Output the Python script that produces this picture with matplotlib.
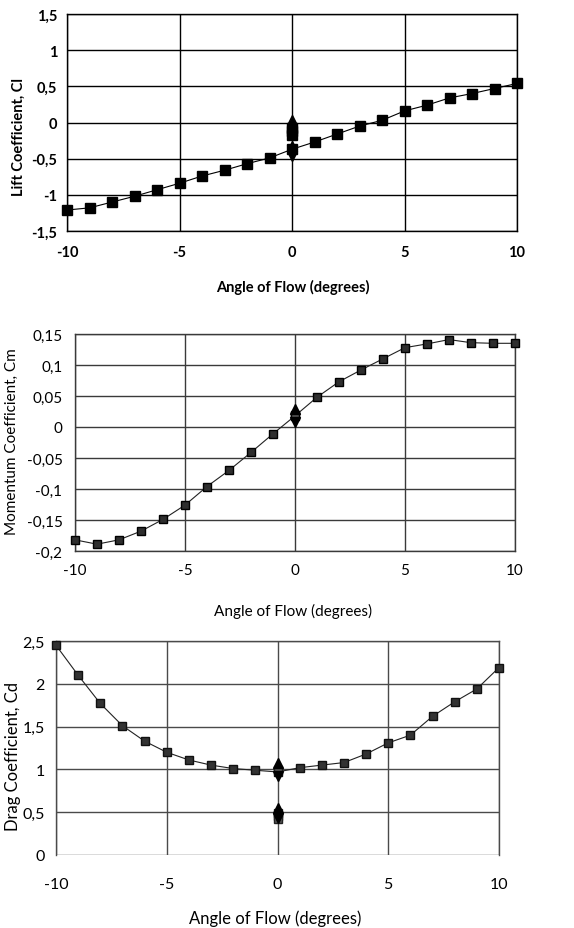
import matplotlib
matplotlib.use("Agg")
import matplotlib.pyplot as plt
from matplotlib.ticker import FuncFormatter

plt.rcParams['font.family'] = ['Lato', 'DejaVu Sans']

# ---------------- data ----------------
angles = list(range(-10, 11))

cl = [-1.21, -1.18, -1.10, -1.02, -0.93, -0.84, -0.74, -0.66, -0.57, -0.49, -0.37,
      -0.27, -0.16, -0.05, 0.03, 0.16, 0.24, 0.34, 0.40, 0.47, 0.54]
cl_zero_repeats = [-0.08, -0.12, -0.17]
cl_err_up = [0.03, -0.33]
cl_err_down = [-0.38, -0.47]

cm = [-0.182, -0.189, -0.182, -0.168, -0.149, -0.126, -0.096, -0.070, -0.041, -0.011, 0.018,
      0.048, 0.073, 0.092, 0.110, 0.128, 0.134, 0.141, 0.136, 0.135, 0.135]
cm_zero_repeats = [0.020]
cm_err_up = [0.029]
cm_err_down = [0.008]

cd = [2.45, 2.10, 1.77, 1.51, 1.33, 1.20, 1.11, 1.05, 1.01, 0.99, 0.97,
      1.02, 1.05, 1.08, 1.18, 1.31, 1.40, 1.62, 1.79, 1.94, 2.19]
cd_zero_repeats = [0.99, 0.49, 0.45, 0.42]
cd_err_up = [1.07, 0.55]
cd_err_down = [0.92, 0.43]

x_ticks = [-10, -5, 0, 5, 10]
cl_ticks = [-1.5, -1.0, -0.5, 0.0, 0.5, 1.0, 1.5]
cm_ticks = [-0.2, -0.15, -0.1, -0.05, 0.0, 0.05, 0.1, 0.15]
cd_ticks = [0.0, 0.5, 1.0, 1.5, 2.0, 2.5]

x_label = "Angle of Flow (degrees)"
cl_label = "Lift Coefficient, Cl"
cm_label = "Momentum Coefficient, Cm"
cd_label = "Drag Coefficient, Cd"


def comma_fmt(v, pos=None):
    s = ("%g" % round(v, 4))
    return s.replace(".", ",")


W, H = 574, 929
fig = plt.figure(figsize=(W / 100, H / 100), dpi=100)


def make_axes(left, right, top, bottom):
    return fig.add_axes([left / W, 1 - bottom / H, (right - left) / W, (bottom - top) / H])


def style(ax, yticks, ylim, gridcolor, spinecolor, fs, weight, xpad, ypad):
    ax.set_xlim(-10, 10)
    ax.set_ylim(*ylim)
    ax.set_xticks(x_ticks)
    ax.set_yticks(yticks)
    ax.xaxis.set_major_formatter(FuncFormatter(lambda v, p: "%d" % v))
    ax.yaxis.set_major_formatter(FuncFormatter(comma_fmt))
    ax.tick_params(length=0, labelsize=fs, pad=0)
    ax.tick_params(axis='x', pad=xpad)
    ax.tick_params(axis='y', pad=ypad)
    for lab in ax.get_xticklabels() + ax.get_yticklabels():
        lab.set_fontweight(weight)
    ax.grid(True, color=gridcolor, linewidth=1.0)
    ax.set_axisbelow(True)
    for sp in ax.spines.values():
        sp.set_color(spinecolor)
        sp.set_linewidth(1.0)


# ---------------- chart 1: lift ----------------
ax1 = make_axes(67, 517, 15, 232)
style(ax1, cl_ticks, (-1.5, 1.5), "#000000", "#000000", 10.5, 'bold', 10, 7)
ax1.plot(angles, cl, color="black", linewidth=0.8, marker='s', markersize=6.5,
         markerfacecolor="black", markeredgecolor="black", clip_on=False, zorder=3)
ax1.plot([0] * len(cl_zero_repeats), cl_zero_repeats, linestyle='none', marker='s',
         markersize=7, color="black", zorder=4)
ax1.plot([0] * len(cl_err_up), cl_err_up, linestyle='none', marker='^', markersize=7,
         color="black", zorder=4)
ax1.plot([0] * len(cl_err_down), cl_err_down, linestyle='none', marker='v', markersize=7,
         color="black", zorder=4)
ax1.set_ylabel(cl_label, fontsize=10.5, fontweight='bold')
ax1.yaxis.set_label_coords(-0.091, 0.44)
ax1.set_xlabel(x_label, fontsize=10.5, fontweight='bold')
ax1.xaxis.set_label_coords(0.502, -0.221)

# ---------------- chart 2: moment ----------------
ax2 = make_axes(75, 515, 335, 552)
style(ax2, cm_ticks, (-0.2, 0.15), "#3a3a3a", "#3a3a3a", 11, 'normal', 9, 9)
ax2.plot(angles, cm, color="#222222", linewidth=0.8, marker='s', markersize=5.5,
         markerfacecolor="#2e2e2e", markeredgecolor="black", clip_on=False, zorder=3)
ax2.plot([0] * len(cm_zero_repeats), cm_zero_repeats, linestyle='none', marker='s',
         markersize=5.5, markerfacecolor="#555555", markeredgecolor="black", zorder=4)
ax2.plot([0] * len(cm_err_up), cm_err_up, linestyle='none', marker='^', markersize=7,
         color="black", zorder=4)
ax2.plot([0] * len(cm_err_down), cm_err_down, linestyle='none', marker='v', markersize=7,
         color="black", zorder=4)
ax2.set_ylabel(cm_label, fontsize=11)
ax2.yaxis.set_label_coords(-0.128, 0.51)
ax2.set_xlabel(x_label, fontsize=11)
ax2.xaxis.set_label_coords(0.495, -0.240)

# ---------------- chart 3: drag ----------------
ax3 = make_axes(56, 499, 642, 856)
style(ax3, cd_ticks, (0, 2.5), "#4a4a4a", "#4a4a4a", 11.5, 'normal', 16, 8)
ax3.spines['bottom'].set_visible(False)
ax3.plot(angles, cd, color="#222222", linewidth=0.8, marker='s', markersize=6,
         markerfacecolor="#333333", markeredgecolor="#111111", clip_on=False, zorder=3)
ax3.plot([0] * len(cd_zero_repeats), cd_zero_repeats, linestyle='none', marker='s',
         markersize=6, markerfacecolor="#555555", markeredgecolor="#222222", zorder=4)
ax3.plot([0] * len(cd_err_up), cd_err_up, linestyle='none', marker='^', markersize=7,
         color="black", zorder=4)
ax3.plot([0] * len(cd_err_down), cd_err_down, linestyle='none', marker='v', markersize=7,
         color="black", zorder=4)
ax3.set_ylabel(cd_label, fontsize=12)
ax3.yaxis.set_label_coords(-0.078, 0.467)
ax3.set_xlabel(x_label, fontsize=12)
ax3.xaxis.set_label_coords(0.494, -0.255)

fig.savefig("out.png", dpi=100)
